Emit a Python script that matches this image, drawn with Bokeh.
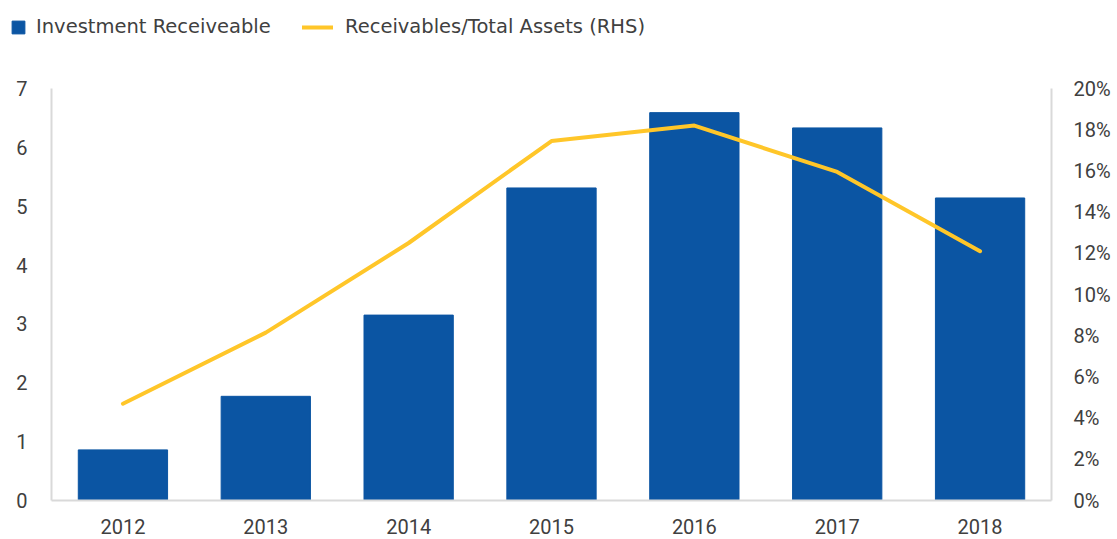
from bokeh.plotting import figure
from bokeh.layouts import column
from bokeh.models import (FactorRange, Range1d, LinearAxis, FixedTicker,
                          PrintfTickFormatter, Legend, LegendItem, ColumnDataSource)
from bokeh.embed import file_html
from bokeh.resources import INLINE

years = ["2012", "2013", "2014", "2015", "2016", "2017", "2018"]
receivable = [0.86, 1.77, 3.15, 5.31, 6.59, 6.33, 5.14]
ratio_pct = [4.7, 8.15, 12.5, 17.45, 18.2, 15.95, 12.1]

left_ticks = [0, 1, 2, 3, 4, 5, 6, 7]
right_ticks = [0, 2, 4, 6, 8, 10, 12, 14, 16, 18, 20]

BAR = "#0B55A3"
LINE = "#FFC629"
TXT = "#404040"
AXC = "#D9D9D9"
FONT = "Roboto"
LEG_FONT = "DejaVu Sans"

W = 1117
TOP_H = 68
MAIN_H = 539 - TOP_H

# ---------- legend strip ----------
lg_fig = figure(width=W, height=TOP_H, x_range=Range1d(0, 1), y_range=Range1d(0, 1),
                x_axis_type=None, y_axis_type=None, output_backend="svg",
                toolbar_location=None, min_border=0)
lg_fig.frame_align = False
lg_fig.outline_line_color = None
lg_fig.xgrid.grid_line_color = None
lg_fig.ygrid.grid_line_color = None
# legend swatches only (placed outside the visible range)
dummy_bar = lg_fig.vbar(x=[5], top=[5], bottom=[4], width=0.5, color=BAR)
dummy_line = lg_fig.line(x=[5, 6], y=[5, 5], color=LINE, line_width=4, line_cap="round")

def mk_legend(item, x, gw, gh, standoff):
    return Legend(items=[item], location=(x, 30), orientation="horizontal",
                  glyph_width=gw, glyph_height=gh, label_standoff=standoff,
                  padding=0, margin=0, spacing=0, border_line_color=None,
                  background_fill_alpha=0, label_text_font=LEG_FONT,
                  label_text_font_size="19.5px", label_text_color=TXT)

lg_fig.add_layout(mk_legend(LegendItem(label="Investment Receiveable", renderers=[dummy_bar]),
                            10, 16, 16, 10))
lg_fig.add_layout(mk_legend(LegendItem(label="Receivables/Total Assets (RHS)", renderers=[dummy_line]),
                            302, 31, 16, 12))

# ---------- main chart ----------
src = ColumnDataSource(dict(year=years, rec=receivable, ratio=ratio_pct))

p = figure(width=W, height=MAIN_H, x_range=FactorRange(*years, range_padding=0),
           y_range=Range1d(0, 7), output_backend="svg", toolbar_location=None,
           min_border_left=51, min_border_right=66, min_border_top=20,
           min_border_bottom=39)
p.frame_align = False
p.extra_y_ranges = {"pct": Range1d(0, 20)}
p.outline_line_color = None
p.xgrid.grid_line_color = None
p.ygrid.grid_line_color = None

bars = p.vbar(x="year", top="rec", width=0.625, source=src, color=BAR)
line = p.line(x="year", y="ratio", source=src, y_range_name="pct", color=LINE,
              line_width=4, line_cap="round", line_join="round")

def style(ax):
    ax.axis_line_color = AXC
    ax.axis_line_width = 2
    ax.major_tick_line_color = None
    ax.minor_tick_line_color = None
    ax.major_label_text_color = TXT
    ax.major_label_text_font = FONT
    ax.major_label_text_font_size = "20px"

style(p.xaxis[0])
p.xaxis[0].major_label_standoff = 12
style(p.yaxis[0])
p.yaxis[0].ticker = FixedTicker(ticks=left_ticks)
p.yaxis[0].major_label_standoff = 18

rax = LinearAxis(y_range_name="pct", ticker=FixedTicker(ticks=right_ticks),
                 formatter=PrintfTickFormatter(format="%d%%"))
style(rax)
rax.major_label_standoff = 16
p.add_layout(rax, "right")

layout = column(lg_fig, p, spacing=0)
open("out.html", "w").write(file_html(layout, INLINE))
